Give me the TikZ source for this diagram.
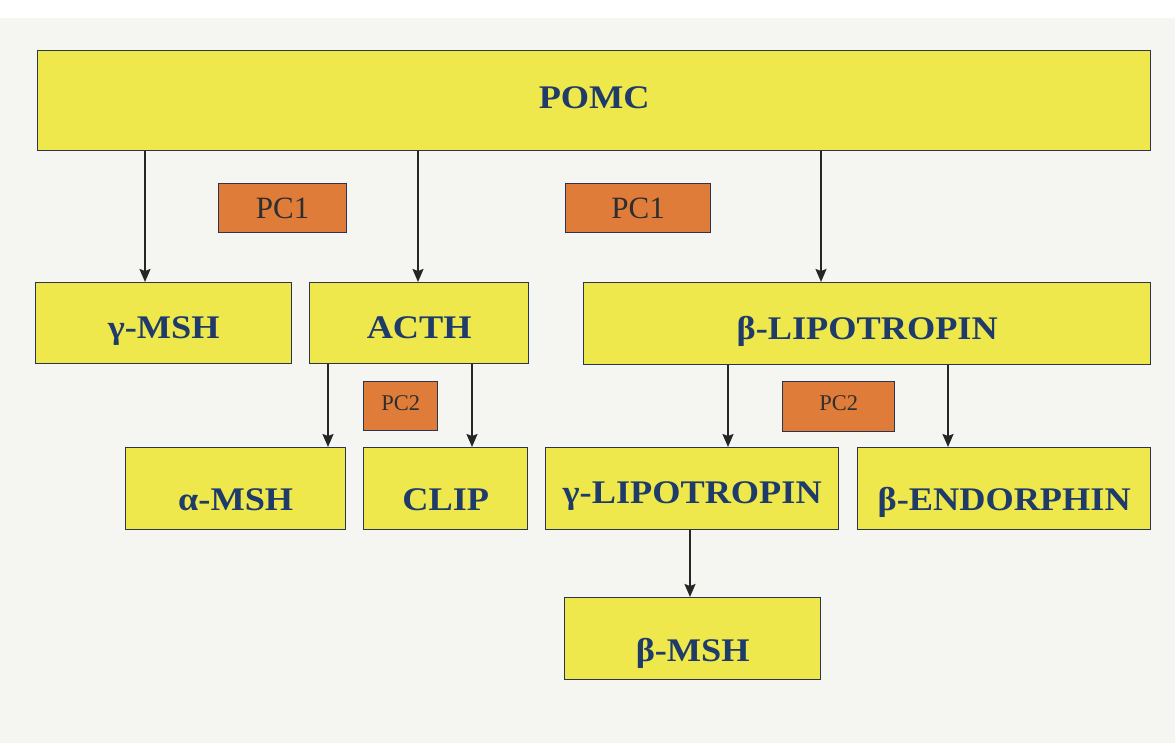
\documentclass[tikz,border=0pt]{standalone}
\usepackage{fontspec}
\setmainfont{Liberation Serif}
\newfontfamily\boxfont[FakeStretch=1.1]{Liberation Serif}
\usetikzlibrary{arrows.meta}
\definecolor{bg}{HTML}{F5F5F2}
\definecolor{boxyellow}{HTML}{EFE84C}
\definecolor{boxorange}{HTML}{E07C3A}
\definecolor{navy}{HTML}{1F3B6A}
\definecolor{edge}{HTML}{2A3550}
\definecolor{pctext}{HTML}{2E2E2E}
\tikzset{
  ybox/.style={draw=edge, line width=1.4pt, fill=boxyellow, anchor=north west, inner sep=0pt,
    font=\boxfont\fontsize{33}{35}\selectfont\bfseries, text=navy, text depth=0pt},
  obox/.style={draw=edge, line width=1.4pt, fill=boxorange, anchor=north west, inner sep=0pt,
    font=\fontsize{31}{33}\selectfont, text=pctext, text depth=0pt, text height=20pt},
  pctwo/.style={font=\fontsize{22.5}{25}\selectfont, text height=8pt},
  arr/.style={draw=black!85, line width=1.8pt, -{Stealth[length=13pt,width=11pt,inset=2pt]}}
}
\begin{document}
\begin{tikzpicture}[x=1pt,y=-1pt]
\fill[bg] (0,0) rectangle (1175,743);
\fill[white] (0,0) rectangle (1175,18);
\useasboundingbox (0,0) rectangle (1175,743);

\node[ybox, minimum width=1113pt, minimum height=100pt, text height=16pt] (pomc) at (37,50) {POMC};
\node[obox, minimum width=128pt, minimum height=49pt] (pc1a) at (218,183) {PC1};
\node[obox, minimum width=145pt, minimum height=49pt] (pc1b) at (565,183) {PC1};

\node[ybox, minimum width=256pt, minimum height=81pt, text height=31pt] (gmsh) at (35,282) {γ-MSH};
\node[ybox, minimum width=219pt, minimum height=81pt, text height=31pt] (acth) at (309,282) {ACTH};
\node[ybox, minimum width=567pt, minimum height=82pt, text height=31pt] (blip) at (583,282) {β-LIPOTROPIN};

\node[obox, pctwo, minimum width=74pt, minimum height=49pt] (pc2a) at (363,381) {PC2};
\node[obox, pctwo, minimum width=112pt, minimum height=50pt] (pc2b) at (782,381) {PC2};

\node[ybox, minimum width=220pt, minimum height=82pt, text height=44pt] (amsh) at (125,447) {α-MSH};
\node[ybox, minimum width=164pt, minimum height=82pt, text height=44pt] (clip) at (363,447) {CLIP};
\node[ybox, minimum width=293pt, minimum height=82pt, text height=29pt] (glip) at (545,447) {γ-LIPOTROPIN};
\node[ybox, minimum width=293pt, minimum height=82pt, text height=44pt] (bend) at (857,447) {β-ENDORPHIN};

\node[ybox, minimum width=256pt, minimum height=82pt, text height=46pt] (bmsh) at (564,597) {β-MSH};

\draw[arr] (pomc.south -| 145,0) -- (gmsh.north -| 145,0);
\draw[arr] (pomc.south -| 418,0) -- (acth.north -| 418,0);
\draw[arr] (pomc.south -| 821,0) -- (blip.north -| 821,0);
\draw[arr] (acth.south -| 328,0) -- (amsh.north -| 328,0);
\draw[arr] (acth.south -| 472,0) -- (clip.north -| 472,0);
\draw[arr] (blip.south -| 728,0) -- (glip.north -| 728,0);
\draw[arr] (blip.south -| 948,0) -- (bend.north -| 948,0);
\draw[arr] (glip.south -| 690,0) -- (bmsh.north -| 690,0);
\end{tikzpicture}
\end{document}
